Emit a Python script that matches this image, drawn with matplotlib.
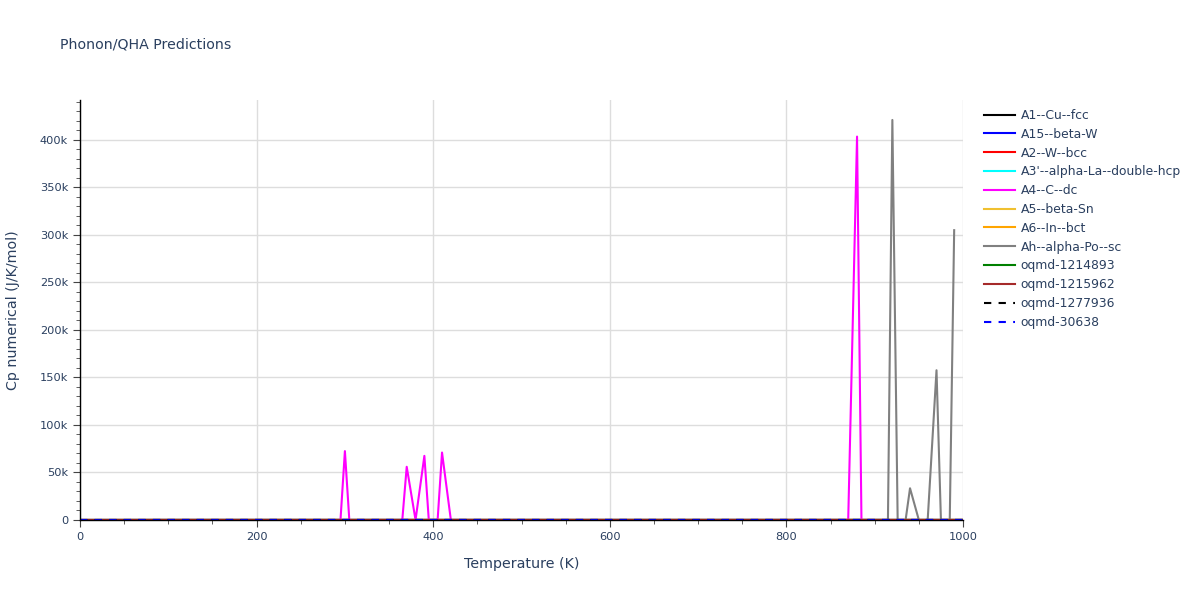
import matplotlib
matplotlib.use("Agg")
import matplotlib.pyplot as plt
from matplotlib.lines import Line2D
from matplotlib.ticker import MultipleLocator, FuncFormatter

plt.rcParams['font.family'] = ['DejaVu Sans']

# ---- data ----
base_T = [0, 100, 200, 300, 400, 500, 600, 700, 800, 900, 1000]
cu_fcc = [0, 16, 22, 24, 25, 25, 26, 26, 27, 27, 28]
beta_w = [0, 18, 23, 24, 25, 25, 26, 26, 26, 27, 27]
w_bcc = [0, 17, 23, 24, 25, 25, 25, 26, 26, 26, 27]
la_dhcp = [0, 22, 25, 26, 26, 27, 27, 27, 28, 28, 28]
beta_sn = [0, 21, 24, 25, 26, 26, 27, 27, 27, 28, 28]
in_bct = [0, 22, 25, 26, 26, 26, 27, 27, 28, 28, 28]
oqmd_1214893 = [0, 19, 23, 24, 25, 25, 26, 26, 26, 27, 27]
oqmd_1215962 = [0, 20, 24, 25, 25, 26, 26, 27, 27, 27, 28]
oqmd_1277936 = [0, 18, 23, 24, 25, 25, 26, 26, 27, 27, 27]
oqmd_30638 = [0, 17, 22, 24, 25, 25, 26, 26, 26, 27, 27]

c_dc_T = [0, 100, 200, 290, 295, 300, 305, 360, 365, 370, 380, 390, 395,
          405, 410, 420, 500, 600, 700, 800, 870, 880, 885, 900, 1000]
c_dc = [0, 20, 24, 25, 25, 72500, 25, 25, 25, 56000, 25, 67500, 25,
        25, 71000, 25, 25, 25, 25, 25, 25, 403500, 25, 25, 25]

po_sc_T = [0, 100, 200, 300, 400, 500, 600, 700, 800, 900, 915, 920, 926,
           935, 940, 950, 960, 970, 975, 985, 990]
po_sc = [0, 22, 25, 26, 26, 27, 27, 27, 28, 28, 28, 421000, 28,
         28, 33400, 28, 28, 157600, 28, 28, 305000]

names = ["A1--Cu--fcc", "A15--beta-W", "A2--W--bcc", "A3'--alpha-La--double-hcp",
         "A4--C--dc", "A5--beta-Sn", "A6--In--bct", "Ah--alpha-Po--sc",
         "oqmd-1214893", "oqmd-1215962", "oqmd-1277936", "oqmd-30638"]
colors = ["black", "blue", "red", "cyan", "magenta", "#f0c030", "orange",
          "grey", "green", "brown", "black", "blue"]
styles = ["-"] * 10 + ["--", "--"]

series = [(base_T, cu_fcc), (base_T, beta_w), (base_T, w_bcc), (base_T, la_dhcp),
          (c_dc_T, c_dc), (base_T, beta_sn), (base_T, in_bct), (po_sc_T, po_sc),
          (base_T, oqmd_1214893), (base_T, oqmd_1215962), (base_T, oqmd_1277936),
          (base_T, oqmd_30638)]

txt = "#2a3f5f"
LW = 1.5
fig = plt.figure(figsize=(12, 6), dpi=100)
ax = fig.add_axes([80 / 1200, 1 - 520 / 600, 883 / 1200, 420 / 600])

for (T, v), n, c, s in zip(series, names, colors, styles):
    ls = (0, (3.5, 3.5)) if s == "--" else "-"
    ax.plot(T, v, color=c, lw=LW, linestyle=ls, label=n)

ax.set_xlim(0, 1000)
ax.set_ylim(0, 442000)
ax.xaxis.set_major_locator(MultipleLocator(200))
ax.xaxis.set_minor_locator(MultipleLocator(50))
ax.yaxis.set_major_locator(MultipleLocator(50000))
ax.yaxis.set_minor_locator(MultipleLocator(10000))
ax.yaxis.set_major_formatter(FuncFormatter(lambda v, p: "0" if v == 0 else f"{int(v/1000)}k"))
ax.grid(True, which="major", color="#dddddd", lw=1)
ax.set_axisbelow(True)
for sp in ["top", "right"]:
    ax.spines[sp].set_visible(False)
for sp in ["left", "bottom"]:
    ax.spines[sp].set_color("black")
    ax.spines[sp].set_linewidth(1)
ax.tick_params(which="major", length=5, color="#444444", labelsize=8.2, labelcolor=txt)
ax.tick_params(which="minor", length=3, color="#444444")
ax.set_xlabel("Temperature (K)", fontsize=10.3, color=txt, labelpad=11)
ax.set_ylabel("Cp numerical (J/K/mol)", fontsize=10.3, color=txt, labelpad=14)

fig.text(60 / 1200, 1 - 45 / 600, "Phonon/QHA Predictions", fontsize=10.2,
         color=txt, va="center", ha="left")

leg_handles = [Line2D([0], [0], color=c, lw=LW,
                      linestyle=((0, (3.5, 3.5)) if s == "--" else "-"))
               for c, s in zip(colors, styles)]
leg = fig.legend(leg_handles, names, loc="upper left",
                 bbox_to_anchor=(979 / 1200, 1 - 104 / 600), frameon=False,
                 fontsize=8.9, handlelength=2.5, labelspacing=0.47,
                 handletextpad=0.45, borderaxespad=0)
for t in leg.get_texts():
    t.set_color(txt)

fig.savefig("out.png", dpi=100)
